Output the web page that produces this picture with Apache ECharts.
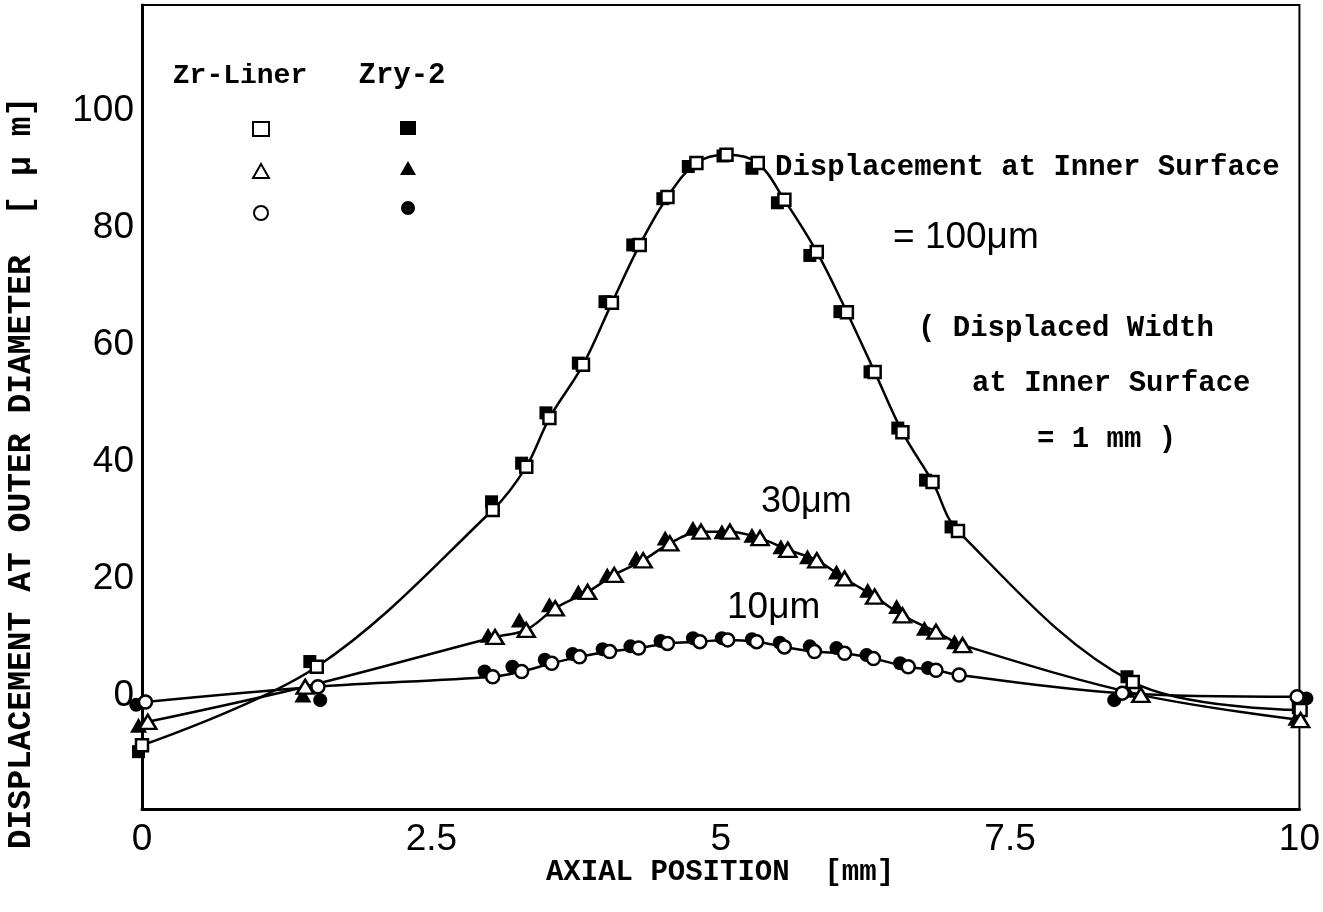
<!DOCTYPE html>
<html>
<head>
<meta charset="utf-8">
<script src="https://cdn.jsdelivr.net/npm/echarts@6/dist/echarts.min.js"></script>
<style>
  html, body { margin: 0; padding: 0; background: #fff; }
  #chart { width: 1323px; height: 912px; }
</style>
</head>
<body>
<div id="chart"></div>
<script>
// values, x in mm, y in µm
// 100 µm case (squares)
var sqLinerX = [0.00, 1.51, 3.03, 3.32, 3.52, 3.81, 4.06, 4.30, 4.54, 4.79, 5.05, 5.32, 5.55, 5.83, 6.09, 6.33, 6.57, 6.83, 7.05, 8.56, 10.01];
var sqLinerY = [-8.4, 5.0, 31.8, 39.2, 47.5, 56.6, 67.2, 77.1, 85.3, 91.1, 92.5, 91.1, 84.8, 75.9, 65.6, 55.4, 45.1, 36.6, 28.2, 2.4, -2.4];
var sqZryX = [-0.03, 1.45, 3.02, 3.28, 3.49, 3.77, 4.00, 4.24, 4.50, 4.72, 5.02, 5.27, 5.49, 5.77, 6.03, 6.29, 6.53, 6.77, 6.99, 8.51, 9.99];
var sqZryY = [-9.5, 5.9, 33.2, 39.8, 48.4, 56.9, 67.4, 77.1, 85.0, 90.5, 92.3, 90.2, 84.3, 75.3, 65.7, 55.4, 45.8, 36.9, 28.9, 3.3, -2.0];
// 30 µm case (triangles)
var triLinerX = [0.05, 1.41, 3.05, 3.32, 3.57, 3.85, 4.08, 4.33, 4.56, 4.83, 5.08, 5.34, 5.58, 5.83, 6.07, 6.33, 6.57, 6.86, 7.09, 8.63, 10.01];
var triLinerY = [-4.4, 1.6, 10.1, 11.3, 15.0, 17.8, 20.7, 23.2, 26.1, 28.1, 28.1, 27.0, 25.0, 23.2, 20.1, 17.0, 13.8, 11.0, 8.7, 0.2, -4.1];
var triZryX = [-0.03, 1.39, 2.99, 3.26, 3.52, 3.77, 4.02, 4.27, 4.52, 4.76, 5.01, 5.27, 5.52, 5.75, 6.00, 6.27, 6.52, 6.76, 7.02, 8.51, 9.97];
var triZryY = [-5.0, 0.2, 10.4, 13.0, 15.6, 17.8, 20.7, 23.6, 27.0, 28.7, 28.1, 27.5, 25.5, 23.8, 21.2, 18.1, 15.3, 11.6, 9.3, 1.0, -3.8];
// 10 µm case (circles)
var cirLinerX = [0.03, 1.52, 3.03, 3.28, 3.54, 3.78, 4.04, 4.29, 4.54, 4.82, 5.06, 5.31, 5.55, 5.81, 6.07, 6.32, 6.62, 6.86, 7.06, 8.47, 9.98];
var cirLinerY = [-1.0, 1.6, 3.3, 4.2, 5.6, 6.7, 7.6, 8.2, 9.0, 9.3, 9.6, 9.3, 8.4, 7.6, 7.3, 6.4, 5.0, 4.4, 3.6, 0.5, -0.1];
var cirZryX = [-0.05, 1.54, 2.96, 3.20, 3.48, 3.72, 3.98, 4.22, 4.48, 4.76, 5.01, 5.27, 5.51, 5.77, 6.00, 6.26, 6.55, 6.79, 8.40, 10.06];
var cirZryY = [-1.5, -0.7, 4.2, 5.0, 6.2, 7.2, 8.0, 8.5, 9.4, 9.9, 9.9, 9.7, 9.1, 8.5, 8.2, 7.0, 5.6, 4.8, -0.7, -0.4];

var yTickValues = [0, 20, 40, 60, 80, 100];

function pairs(xs, ys) {
  return xs.map(function (x, i) { return [x, ys[i]]; });
}

var monoFont = "'Liberation Mono', 'DejaVu Sans Mono', monospace";
var sansFont = "'Liberation Sans', 'DejaVu Sans', sans-serif";

var chart = echarts.init(document.getElementById('chart'));

function curve(xs, ys) {
  return {
    type: 'line',
    data: pairs(xs, ys),
    smooth: 0.35,
    showSymbol: false,
    silent: true,
    z: 1,
    lineStyle: { color: '#000', width: 2.5 }
  };
}

function filled(name, symbol, size, xs, ys) {
  return {
    name: name,
    type: 'scatter',
    symbol: symbol,
    symbolSize: size,
    clip: false,
    z: 2,
    data: pairs(xs, ys),
    itemStyle: { color: '#000', opacity: 1 }
  };
}

function open(name, symbol, size, xs, ys) {
  return {
    name: name,
    type: 'scatter',
    symbol: symbol,
    symbolSize: size,
    clip: false,
    z: 3,
    data: pairs(xs, ys),
    itemStyle: { color: '#fff', borderColor: '#000', borderWidth: 2.5, opacity: 1 }
  };
}

var option = {
  backgroundColor: '#fff',
  animation: false,
  grid: {
    left: 142, right: 23, top: 5, bottom: 103,
    show: true, borderColor: '#000', borderWidth: 2
  },
  xAxis: {
    type: 'value',
    min: 0, max: 10, interval: 2.5,
    axisLine: { show: true, onZero: false, lineStyle: { color: '#000', width: 3 } },
    axisTick: { show: false },
    splitLine: { show: false },
    axisLabel: {
      color: '#000', fontSize: 37, margin: 12,
      fontFamily: "'Liberation Sans Narrow', " + sansFont
    }
  },
  yAxis: {
    type: 'value',
    min: -19.3, max: 118.1,
    axisLine: { show: true, onZero: false, lineStyle: { color: '#000', width: 3 } },
    axisTick: { show: false },
    splitLine: { show: false },
    axisLabel: {
      customValues: yTickValues,
      color: '#000', fontSize: 37, margin: 8,
      fontFamily: "'Liberation Sans Narrow', " + sansFont
    }
  },
  legend: [
    {
      data: ['Zr-Liner 100', 'Zr-Liner 30', 'Zr-Liner 10'],
      orient: 'vertical', left: 247, top: 116,
      itemWidth: 16, itemHeight: 14, itemGap: 26,
      selectedMode: false, formatter: function () { return ''; }
    },
    {
      data: ['Zry-2 100', 'Zry-2 30', 'Zry-2 10'],
      orient: 'vertical', left: 395, top: 116,
      itemWidth: 16, itemHeight: 14, itemGap: 26,
      selectedMode: false, formatter: function () { return ''; }
    }
  ],
  series: [
    curve(sqLinerX, sqLinerY),
    curve(triLinerX, triLinerY),
    curve(cirLinerX, cirLinerY),
    filled('Zry-2 100', 'rect', 13, sqZryX, sqZryY),
    filled('Zry-2 30', 'triangle', [17, 15], triZryX, triZryY),
    filled('Zry-2 10', 'circle', 14, cirZryX, cirZryY),
    open('Zr-Liner 100', 'rect', 12, sqLinerX, sqLinerY),
    open('Zr-Liner 30', 'triangle', [17, 14], triLinerX, triLinerY),
    open('Zr-Liner 10', 'circle', 13, cirLinerX, cirLinerY)
  ],
  graphic: [
    { type: 'text', x: 240, y: 76, style: { text: 'Zr-Liner', font: 'bold 28px ' + monoFont, fill: '#000', textAlign: 'center', textVerticalAlign: 'middle' } },
    { type: 'text', x: 402, y: 76, style: { text: 'Zry-2', font: 'bold 29px ' + monoFont, fill: '#000', textAlign: 'center', textVerticalAlign: 'middle' } },
    { type: 'text', x: 775, y: 168, style: { text: 'Displacement at Inner Surface', font: 'bold 29px ' + monoFont, fill: '#000', textAlign: 'left', textVerticalAlign: 'middle' } },
    { type: 'text', x: 893, y: 238, style: { text: '= 100μm', font: '37px ' + sansFont, fill: '#000', textAlign: 'left', textVerticalAlign: 'middle' } },
    { type: 'text', x: 918, y: 329, style: { text: '( Displaced Width', font: 'bold 29px ' + monoFont, fill: '#000', textAlign: 'left', textVerticalAlign: 'middle' } },
    { type: 'text', x: 972, y: 384, style: { text: 'at Inner Surface', font: 'bold 29px ' + monoFont, fill: '#000', textAlign: 'left', textVerticalAlign: 'middle' } },
    { type: 'text', x: 1037, y: 440, style: { text: '= 1 mm )', font: 'bold 29px ' + monoFont, fill: '#000', textAlign: 'left', textVerticalAlign: 'middle' } },
    { type: 'text', x: 761, y: 502, style: { text: '30μm', font: '36px ' + sansFont, fill: '#000', textAlign: 'left', textVerticalAlign: 'middle' } },
    { type: 'text', x: 727, y: 608, style: { text: '10μm', font: '37px ' + sansFont, fill: '#000', textAlign: 'left', textVerticalAlign: 'middle' } },
    { type: 'text', x: 22, y: 473, rotation: Math.PI / 2, style: { text: 'DISPLACEMENT AT OUTER DIAMETER  [ μ m]', font: 'bold 33px ' + monoFont, fill: '#000', textAlign: 'center', textVerticalAlign: 'middle' } },
    { type: 'text', x: 720, y: 873, style: { text: 'AXIAL POSITION  [mm]', font: 'bold 29px ' + monoFont, fill: '#000', textAlign: 'center', textVerticalAlign: 'middle' } }
  ]
};

chart.setOption(option);
</script>
</body>
</html>
